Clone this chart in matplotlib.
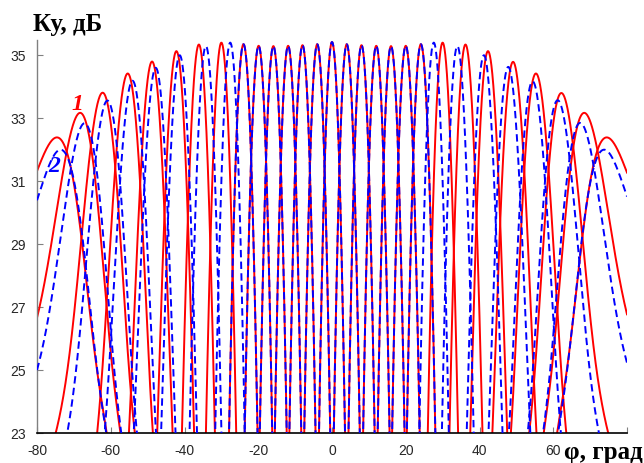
import numpy as np
import matplotlib
matplotlib.use("Agg")
import matplotlib.pyplot as plt

plt.rcParams['axes.unicode_minus'] = False

# Положения максимумов лучей (град) и их усиление (дБ)
red_peak_deg = [-74.6, -68.3, -62.2, -55.4, -48.8, -42.2, -36.1, -30.0, -24.0,
                -19.9, -15.9, -11.9, -8.0, -4.0, 0.0, 4.0, 8.0, 12.0, 16.0,
                20.0, 24.1, 30.0, 36.2, 42.3, 49.1, 55.3, 62.2, 68.4, 74.5]
red_peak_db = [32.39, 33.17, 33.81, 34.42, 34.80, 35.13, 35.34, 35.40, 35.35,
               35.30, 35.29, 35.30, 35.32, 35.35, 35.42, 35.35, 35.32, 35.30, 35.29,
               35.30, 35.35, 35.40, 35.34, 35.13, 34.79, 34.42, 33.80, 33.17, 32.39]

blue_peak_deg = [-73.6, -67.1, -60.9, -54.1, -47.8, -41.3, -34.2, -27.6, -24.0,
                 -19.9, -15.9, -11.9, -8.0, -4.0, 0.0, 4.0, 8.0, 12.0, 16.0,
                 20.0, 24.1, 27.6, 34.0, 41.2, 47.8, 54.4, 61.2, 67.3, 73.8]
blue_peak_db = [32.00, 32.84, 33.56, 34.19, 34.60, 35.00, 35.29, 35.40, 35.35,
                35.30, 35.29, 35.30, 35.32, 35.35, 35.42, 35.35, 35.32, 35.30, 35.29,
                35.30, 35.35, 35.40, 35.29, 35.00, 34.63, 34.17, 33.57, 32.85, 32.00]

x_ticks = [-80, -60, -40, -20, 0, 20, 40, 60, 80]
x_tick_labels = ['-80', '-60', '-40', '-20', '0', '20', '40', '60', '']
y_ticks = [23, 25, 27, 29, 31, 33, 35]

phi = np.linspace(-80, 80, 4001)


def beam_db(phi_deg, peak_deg, peak_db):
    # диаграмма одного луча в пространстве sin(phi)
    du = np.sin(np.radians(phi_deg)) - np.sin(np.radians(peak_deg))
    u0 = abs(np.sin(np.radians(peak_deg)))
    fill = 0.25 * (u0 / 0.965) ** 6
    p = (1 - fill) * np.exp(-(du / 0.0364) ** 2) + fill * np.exp(-(du / 0.1) ** 2)
    return peak_db + 10 * np.log10(p)


fig = plt.figure(figsize=(6.44, 4.63), dpi=100)
ax = fig.add_axes([37 / 644, 30 / 463, 590 / 644, 393.5 / 463])

for pk, g in zip(red_peak_deg, red_peak_db):
    ax.plot(phi, beam_db(phi, pk, g), color='#ff0000', lw=1.4, zorder=2)
for pk, g in zip(blue_peak_deg, blue_peak_db):
    ax.plot(phi, beam_db(phi, pk, g), color='#0000ff', lw=1.4,
            linestyle=(0, (3.8, 2.2)), zorder=3)

ax.set_xlim(-80, 80)
ax.set_ylim(23, 35.5)
ax.set_xticks(x_ticks)
ax.set_xticklabels(x_tick_labels)
ax.set_yticks(y_ticks)

for s in ['top', 'right']:
    ax.spines[s].set_visible(False)
ax.spines['left'].set_color('#808080')
ax.spines['bottom'].set_color('#000000')
ax.spines['left'].set_linewidth(1.0)
ax.spines['bottom'].set_linewidth(1.2)
ax.tick_params(axis='both', direction='in', length=4, width=0.8,
               labelsize=10, labelcolor='#262626', colors='#808080')
ax.tick_params(axis='x', pad=8)
ax.tick_params(axis='y', pad=8)
for lbl in ax.get_xticklabels() + ax.get_yticklabels():
    lbl.set_family('Liberation Sans')
    lbl.set_color('#262626')

# подписи кривых
ax.text(-69.1, 33.44, '1', color='#ff0000', fontsize=17, fontstyle='italic',
        fontweight='bold', family='Liberation Serif', ha='center', va='center', zorder=5)
ax.text(-75.3, 31.45, '2', color='#0000ff', fontsize=17, fontstyle='italic',
        fontweight='bold', family='Liberation Serif', ha='center', va='center', zorder=5)

# подписи осей
fig.text(33 / 644, 1 - 25 / 463, 'Ку, дБ', fontsize=18, fontweight='bold',
         family='Liberation Serif', ha='left', va='center')
fig.text(643 / 644, 1 - 452 / 463, 'φ, град', fontsize=18, fontweight='bold',
         family='Liberation Serif', ha='right', va='center',
         bbox=dict(facecolor='white', edgecolor='none', pad=1))

fig.savefig('out.png', dpi=100)
